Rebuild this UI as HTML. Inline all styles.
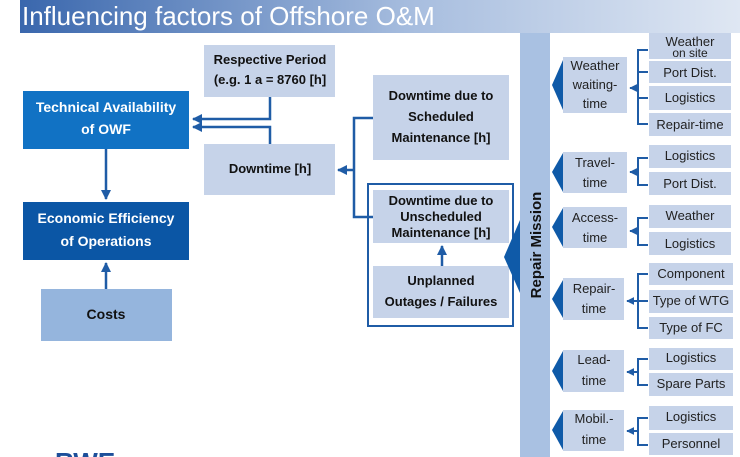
<!DOCTYPE html>
<html><head><meta charset="utf-8"><style>
body{margin:0;background:#fff;}
svg{display:block;font-family:"Liberation Sans",Arial,sans-serif;}
.b{font-weight:bold;}
</style></head><body>
<svg width="740" height="457" viewBox="0 0 740 457" xmlns="http://www.w3.org/2000/svg">
<defs>
<linearGradient id="tg" x1="0" x2="1" y1="0" y2="0">
<stop offset="0" stop-color="#3a67ad"/><stop offset="0.55" stop-color="#a8bedf"/><stop offset="1" stop-color="#dfe7f3"/>
</linearGradient>
<marker id="ar" viewBox="0 0 10 10" refX="9" refY="5" markerWidth="4" markerHeight="4" orient="auto-start-reverse">
<path d="M0,0 L10,5 L0,10 z" fill="#1f5ca6"/></marker>
</defs>
<rect x="20" y="0" width="720" height="33" fill="url(#tg)"/>
<text x="22" y="25" font-size="26" fill="#fff">Influencing factors of Offshore O&amp;M</text>

<g stroke="#1f5ca6" stroke-width="2.5" fill="none">
<path d="M270 97 V119 H193" marker-end="url(#ar)"/>
<path d="M270 144 V127 H193" marker-end="url(#ar)"/>
<path d="M106 149 V199" marker-end="url(#ar)"/>
<path d="M106 289 V263" marker-end="url(#ar)"/>
<path d="M373 118 H354 V217 H373"/>
<path d="M354 170 H338" marker-end="url(#ar)"/>
<path d="M442 266 V246" marker-end="url(#ar)"/>
</g>
<rect x="368" y="184" width="145" height="142" fill="none" stroke="#1f5ca6" stroke-width="2"/>

<rect x="23" y="91" width="166" height="58" fill="#1172c4"/>
<text x="106" y="112" font-size="14" fill="#fff" text-anchor="middle" class="b">Technical Availability</text>
<text x="106" y="134" font-size="14" fill="#fff" text-anchor="middle" class="b">of OWF</text>
<rect x="23" y="202" width="166" height="58" fill="#0b56a5"/>
<text x="106" y="223" font-size="14" fill="#fff" text-anchor="middle" class="b">Economic Efficiency</text>
<text x="106" y="246" font-size="14" fill="#fff" text-anchor="middle" class="b">of Operations</text>
<rect x="41" y="289" width="131" height="52" fill="#95b5dd"/>
<text x="106" y="319" font-size="14" fill="#111" text-anchor="middle" class="b">Costs</text>

<rect x="204" y="45" width="131" height="52" fill="#c6d3e9"/>
<text x="270" y="64" font-size="13" fill="#111" text-anchor="middle" class="b">Respective Period</text>
<text x="270" y="84" font-size="13" fill="#111" text-anchor="middle" class="b">(e.g. 1 a = 8760 [h]</text>
<rect x="204" y="144" width="131" height="51" fill="#c6d3e9"/>
<text x="270" y="173" font-size="13" fill="#111" text-anchor="middle" class="b">Downtime [h]</text>

<rect x="373" y="75" width="136" height="85" fill="#c6d3e9"/>
<text x="441" y="100" font-size="13" fill="#111" text-anchor="middle" class="b">Downtime due to</text>
<text x="441" y="121" font-size="13" fill="#111" text-anchor="middle" class="b">Scheduled</text>
<text x="441" y="142" font-size="13" fill="#111" text-anchor="middle" class="b">Maintenance [h]</text>
<rect x="373" y="190" width="136" height="53" fill="#c6d3e9"/>
<text x="441" y="205" font-size="13" fill="#111" text-anchor="middle" class="b">Downtime due to</text>
<text x="441" y="221" font-size="13" fill="#111" text-anchor="middle" class="b">Unscheduled</text>
<text x="441" y="237" font-size="13" fill="#111" text-anchor="middle" class="b">Maintenance [h]</text>
<rect x="373" y="266" width="136" height="52" fill="#c6d3e9"/>
<text x="441" y="285" font-size="13" fill="#111" text-anchor="middle" class="b">Unplanned</text>
<text x="441" y="306" font-size="13" fill="#111" text-anchor="middle" class="b">Outages / Failures</text>

<rect x="520" y="33" width="30" height="424" fill="#a9c1e2"/>
<path d="M504 257 L520 220 L520 293 z" fill="#0f5aa8"/>
<text transform="translate(541,245) rotate(-90)" font-size="15" fill="#111" text-anchor="middle" class="b">Repair Mission</text>

<g font-size="13" fill="#222" text-anchor="middle">
<!-- groups -->
<path d="M552 85 L563 60 L563 110 z" fill="#0f5aa8"/>
<rect x="563" y="57" width="64" height="56" fill="#c6d3e9"/>
<text x="595" y="70" >Weather</text><text x="595" y="89">waiting-</text><text x="595" y="108">time</text>
<path d="M552 172 L563 153 L563 192 z" fill="#0f5aa8"/>
<rect x="563" y="152" width="64" height="41" fill="#c6d3e9"/>
<text x="595" y="167">Travel-</text><text x="595" y="187">time</text>
<path d="M552 227 L563 208 L563 247 z" fill="#0f5aa8"/>
<rect x="563" y="207" width="64" height="41" fill="#c6d3e9"/>
<text x="595" y="222">Access-</text><text x="595" y="242">time</text>
<path d="M552 299 L563 280 L563 318 z" fill="#0f5aa8"/>
<rect x="563" y="278" width="61" height="42" fill="#c6d3e9"/>
<text x="594" y="293">Repair-</text><text x="594" y="313">time</text>
<path d="M552 371 L563 351 L563 391 z" fill="#0f5aa8"/>
<rect x="563" y="350" width="61" height="42" fill="#c6d3e9"/>
<text x="594" y="364">Lead-</text><text x="594" y="385">time</text>
<path d="M552 430 L563 411 L563 450 z" fill="#0f5aa8"/>
<rect x="563" y="410" width="61" height="41" fill="#c6d3e9"/>
<text x="594" y="423">Mobil.-</text><text x="594" y="444">time</text>

<g stroke="#1f5ca6" stroke-width="2" fill="none">
<path d="M648 50 H638 V124 H648 M638 72 H648 M638 98 H648"/>
<path d="M638 88 H630" marker-end="url(#ar)"/>
<path d="M648 158 H638 V185 H648"/><path d="M638 172 H630" marker-end="url(#ar)"/>
<path d="M648 218 H638 V245 H648"/><path d="M638 231 H630" marker-end="url(#ar)"/>
<path d="M648 274 H638 V328 H648 M638 301 H648"/><path d="M638 301 H627" marker-end="url(#ar)"/>
<path d="M648 359 H638 V385 H648"/><path d="M638 372 H627" marker-end="url(#ar)"/>
<path d="M648 418 H638 V445 H648"/><path d="M638 431 H627" marker-end="url(#ar)"/>
</g>

<rect x="649" y="33" width="82" height="26" fill="#c6d3e9"/>
<text x="690" y="46">Weather</text><text x="690" y="57" font-size="12">on site</text>
<rect x="649" y="61" width="82" height="22" fill="#c6d3e9"/><text x="690" y="77">Port Dist.</text>
<rect x="649" y="86" width="82" height="24" fill="#c6d3e9"/><text x="690" y="102">Logistics</text>
<rect x="649" y="113" width="82" height="23" fill="#c6d3e9"/><text x="690" y="129">Repair-time</text>
<rect x="649" y="145" width="82" height="23" fill="#c6d3e9"/><text x="690" y="160">Logistics</text>
<rect x="649" y="172" width="82" height="23" fill="#c6d3e9"/><text x="690" y="188">Port Dist.</text>
<rect x="649" y="205" width="82" height="23" fill="#c6d3e9"/><text x="690" y="220">Weather</text>
<rect x="649" y="232" width="82" height="23" fill="#c6d3e9"/><text x="690" y="248">Logistics</text>
<rect x="649" y="263" width="84" height="22" fill="#c6d3e9"/><text x="691" y="278">Component</text>
<rect x="649" y="290" width="84" height="23" fill="#c6d3e9"/><text x="691" y="305">Type of WTG</text>
<rect x="649" y="317" width="84" height="22" fill="#c6d3e9"/><text x="691" y="332">Type of FC</text>
<rect x="649" y="348" width="84" height="22" fill="#c6d3e9"/><text x="691" y="362">Logistics</text>
<rect x="649" y="373" width="84" height="23" fill="#c6d3e9"/><text x="691" y="388">Spare Parts</text>
<rect x="649" y="406" width="84" height="24" fill="#c6d3e9"/><text x="691" y="421">Logistics</text>
<rect x="649" y="433" width="84" height="22" fill="#c6d3e9"/><text x="691" y="448">Personnel</text>
</g>
<text x="55" y="471" font-size="26" fill="#1d4f9a" class="b">RWE</text>
</svg>
</body></html>
